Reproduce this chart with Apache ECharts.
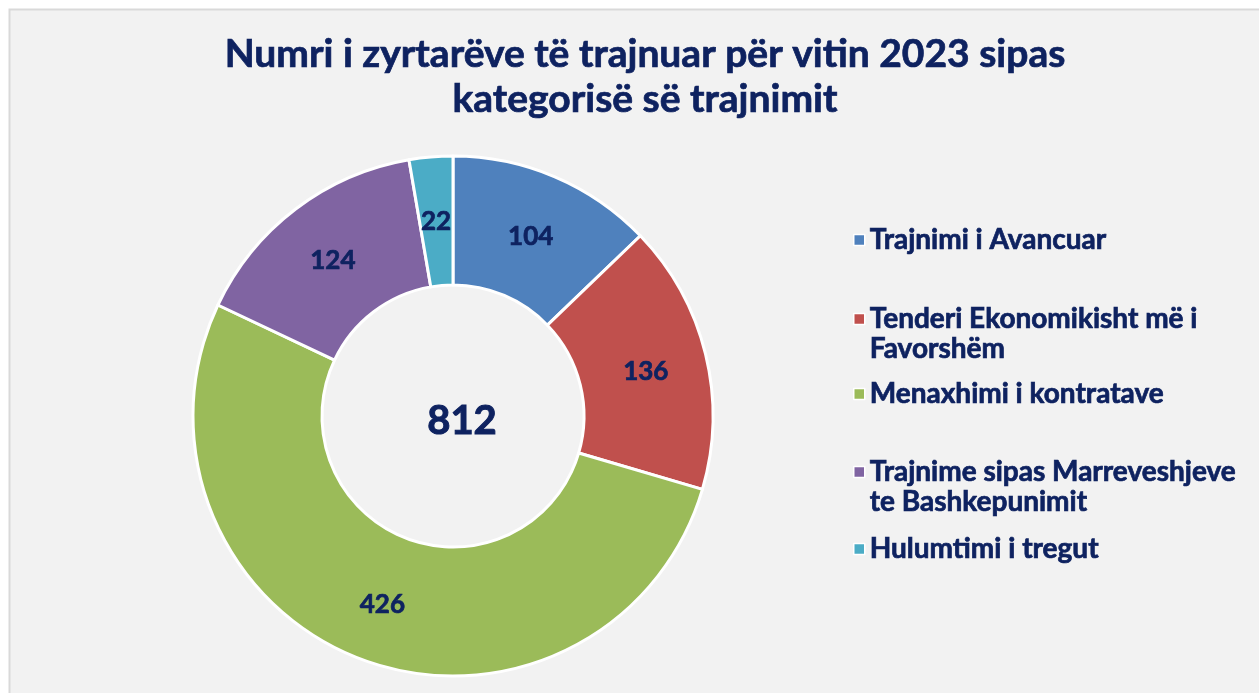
<!DOCTYPE html>
<html>
<head>
<meta charset="utf-8">
<script src="https://cdn.jsdelivr.net/npm/echarts@6/dist/echarts.min.js"></script>
<style>
    html, body { margin: 0; padding: 0; background: #ffffff; }
    #chart { width: 1259px; height: 693px; }
</style>
</head>
<body>
<div id="chart"></div>
<script>
// Kategoritë e trajnimit dhe numri i zyrtarëve
const categories = [
    "Trajnimi i Avancuar",
    "Tenderi Ekonomikisht më i Favorshëm",
    "Menaxhimi i kontratave",
    "Trajnime sipas Marreveshjeve te Bashkepunimit",
    "Hulumtimi i tregut"
];
// Rreshti bosh në fillim mban rreshtin e parë në nivel me katrorin
const legendLabels = [
    "Trajnimi i Avancuar",
    "\nTenderi Ekonomikisht më i\nFavorshëm",
    "Menaxhimi i kontratave",
    "\nTrajnime sipas Marreveshjeve\nte Bashkepunimit",
    "Hulumtimi i tregut"
];
const values = [104, 136, 426, 124, 22];
const colors = ["#4f81bd", "#c0504d", "#9bbb59", "#8064a2", "#4bacc6"];

const navy = "#0e2260";
const fontFamily = "Lato, 'Open Sans', sans-serif";
const total = values.reduce((sum, v) => sum + v, 0);

// Pozicioni vertikal i secilës legjendë
const legendTops = [225, 274, 379, 427, 534];

const chart = echarts.init(document.getElementById("chart"));

// Stil i përbashkët i tekstit: pak kontur për ta bërë më të trashë
const heavy = {
    color: navy,
    fontFamily: fontFamily,
    fontWeight: "bold",
    textBorderColor: navy,
    textBorderWidth: 0.7
};

const legends = categories.map((name, i) => ({
    left: 853,
    top: legendTops[i],
    orient: "vertical",
    padding: 0,
    itemWidth: 11,
    itemHeight: 11,
    itemGap: 0,
    icon: "rect",
    selectedMode: false,
    data: [name],
    formatter: () => legendLabels[i],
    itemStyle: { borderColor: "#ffffff", borderWidth: 1.5 },
    textStyle: Object.assign({}, heavy, { fontSize: 28, lineHeight: 30 })
}));

chart.setOption({
    animation: false,
    color: colors,
    title: {
        text: "Numri i zyrtarëve të trajnuar për vitin 2023 sipas\nkategorisë së trajnimit",
        left: 640,
        top: 27,
        textAlign: "center",
        textStyle: Object.assign({}, heavy, { fontSize: 39, lineHeight: 45 })
    },
    graphic: [
        {
            type: "rect",
            z: -10,
            silent: true,
            shape: { x: 9.5, y: 9.5, width: 1300, height: 700 },
            style: { fill: "#f2f2f2", stroke: "#d9d9d9", lineWidth: 2 }
        },
        {
            type: "text",
            z: 10,
            x: 462,
            y: 421,
            style: {
                text: String(total),
                fill: navy,
                stroke: navy,
                lineWidth: 1,
                font: "bold 40px " + fontFamily,
                align: "center",
                verticalAlign: "middle"
            }
        }
    ],
    legend: legends,
    series: [
        {
            type: "pie",
            center: [453, 416],
            radius: [131, 260],
            startAngle: 90,
            clockwise: true,
            avoidLabelOverlap: false,
            itemStyle: { borderColor: "#ffffff", borderWidth: 3 },
            label: Object.assign({}, heavy, {
                show: true,
                position: "inside",
                fontSize: 26,
                offset: [0, 3],
                formatter: "{c}"
            }),
            labelLine: { show: false },
            emphasis: { disabled: true },
            data: categories.map((name, i) => ({ name: name, value: values[i] }))
        }
    ]
});
</script>
</body>
</html>
